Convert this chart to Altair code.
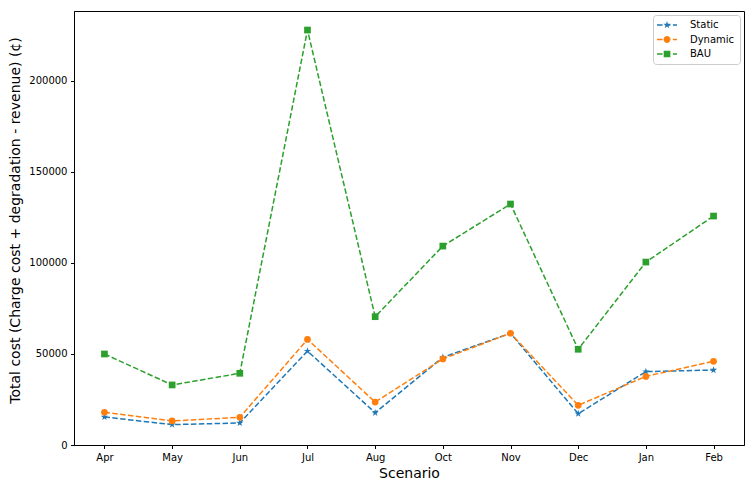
import math
import altair as alt
import pandas as pd

months = ["Apr", "May", "Jun", "Jul", "Aug", "Oct", "Nov", "Dec", "Jan", "Feb"]
series_names = ["Static", "Dynamic", "BAU"]
static_vals = [15400, 11200, 12100, 51600, 17700, 48200, 61400, 17200, 40300, 41200]
dynamic_vals = [18000, 13200, 15200, 58000, 23600, 47300, 61400, 21800, 37700, 46000]
bau_vals = [50000, 33000, 39400, 228000, 70500, 109300, 132400, 52600, 100500, 125800]
colors = ["#1f77b4", "#ff7f0e", "#2ca02c"]
y_ticks = [0, 50000, 100000, 150000, 200000]

rows = []
for name, vals in zip(series_names, [static_vals, dynamic_vals, bau_vals]):
    for i, (m, v) in enumerate(zip(months, vals)):
        rows.append({"month": m, "idx": i, "series": name, "value": v})
df = pd.DataFrame(rows)


def star_path(R, ratio=0.381966):
    pts = []
    for i in range(10):
        ang = -math.pi / 2 + i * math.pi / 5
        rad = R if i % 2 == 0 else R * ratio
        pts.append((rad * math.cos(ang), rad * math.sin(ang)))
    return "M" + "L".join(f"{x:.3f},{y:.3f}" for x, y in pts) + "Z"


def circle_path(r):
    return f"M{r},0A{r},{r} 0 1 1 {-r},0A{r},{r} 0 1 1 {r},0Z"


def square_path(h):
    return f"M{-h},{-h}H{h}V{h}H{-h}Z"


def dashes_path(t=0.15):
    segs = [(-2.0, -0.89), (-0.41, 0.70), (1.18, 2.0)]
    return "".join(f"M{a},{-t}H{b}V{t}H{a}Z" for a, b in segs)


# plot markers
marker_shapes = [star_path(1.15), "circle", "square"]
# legend symbols: dashed line + marker
legend_shapes = [
    dashes_path() + star_path(0.78),
    dashes_path() + circle_path(0.68),
    dashes_path() + square_path(0.66),
]

font = "DejaVu Sans"
color_scale = alt.Scale(domain=series_names, range=colors)

x_enc = alt.X(
    "month:N",
    scale=alt.Scale(type="point", domain=months, padding=0.45),
    sort=months,
    axis=alt.Axis(title="Scenario", labelAngle=0),
)
y_enc = alt.Y(
    "value:Q",
    scale=alt.Scale(domain=[0, 238460], nice=False, zero=False),
    axis=alt.Axis(
        title="Total cost (Charge cost + degradation - revenue) (¢)",
        values=y_ticks,
        format="d",
        titlePadding=6,
        titleY=209,
    ),
)

lines = alt.Chart(df).mark_line(strokeDash=[5.5, 2.4], strokeWidth=1.5).encode(
    x=x_enc,
    y=y_enc,
    stroke=alt.Stroke("series:N", scale=color_scale, legend=None),
    order=alt.Order("idx:Q"),
)

points = alt.Chart(df).mark_point(filled=True, opacity=1, size=45, strokeWidth=0).encode(
    x=x_enc,
    y=y_enc,
    fill=alt.Fill("series:N", scale=color_scale, legend=None),
    shape=alt.Shape(
        "series:N",
        scale=alt.Scale(domain=series_names, range=marker_shapes),
        legend=None,
    ),
)

legend_kw = dict(
    title=None,
    orient="top-right",
    offset=4,
    padding=5,
    symbolSize=100,
    symbolStrokeWidth=0,
    symbolOpacity=1,
    labelFontSize=10,
    labelFont=font,
    labelColor="black",
    labelOffset=18,
    symbolOffset=4,
    rowPadding=4.5,
    strokeColor="#cccccc",
    fillColor="white",
    cornerRadius=3,
)

legend_layer = (
    alt.Chart(df)
    .transform_filter(alt.datum.idx == 0)
    .mark_point(filled=True, opacity=0, size=100, strokeWidth=0)
    .encode(
        x=x_enc,
        y=y_enc,
        color=alt.Color("series:N", scale=color_scale, legend=alt.Legend(**legend_kw)),
        shape=alt.Shape(
            "series:N",
            scale=alt.Scale(domain=series_names, range=legend_shapes),
            legend=alt.Legend(**legend_kw),
        ),
    )
)

chart = (
    alt.layer(lines, points, legend_layer)
    .resolve_scale(shape="independent", color="independent")
    .properties(
        width=670,
        height=434,
        autosize=alt.AutoSizeParams(type="none"),
        padding={"left": 66, "top": 3, "right": 2, "bottom": 34},
        background="white",
    )
    .configure_view(stroke="black", strokeWidth=1)
    .configure_axis(
        grid=False,
        domainColor="black",
        domainWidth=1,
        tickColor="black",
        tickWidth=1,
        tickSize=3.5,
        labelPadding=3.5,
        labelFont=font,
        labelFontSize=10,
        labelColor="black",
        titleFont=font,
        titleFontSize=14,
        titleFontWeight="normal",
        titleColor="black",
        titlePadding=4,
    )
)

chart.save("out.html", embed_options={"renderer": "svg", "actions": False})
